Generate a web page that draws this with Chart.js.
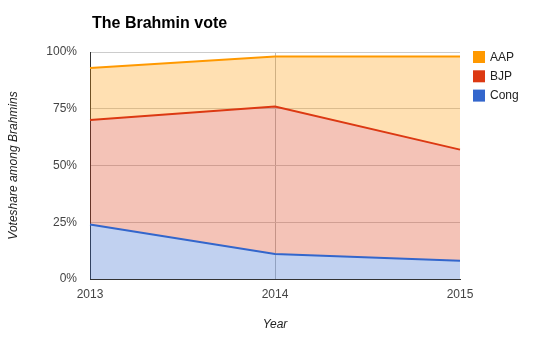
<!DOCTYPE html>
<html><head><meta charset="utf-8">
<script src="https://cdn.jsdelivr.net/npm/chart.js@4"></script>
<style>html,body{margin:0;padding:0;background:#fff;}#wrap{width:535px;height:356px;position:relative;}</style>
</head><body><div id="wrap"><canvas id="c" width="535" height="356"></canvas></div>
<script>
const years = ['2013', '2014', '2015'];
const cong = [24, 11, 8];
const bjp = [46, 65, 49];
const aap = [23, 22, 41];
const yTicks = [0, 25, 50, 75, 100];
const seriesNames = ['Cong', 'BJP', 'AAP'];
const seriesColors = ['#3366cc', '#dc3912', '#ff9900'];
const fillColors = ['rgba(51,102,204,0.3)', 'rgba(220,57,18,0.3)', 'rgba(255,153,0,0.3)'];
const chartTitle = 'The Brahmin vote';
const xTitle = 'Year';
const yTitle = 'Voteshare among Brahmins';

const FONT = '"Liberation Sans", Arial, sans-serif';

const decor = {
  id: 'decor',
  afterDraw(chart) {
    const ctx = chart.ctx;
    const a = chart.chartArea;
    ctx.save();
    ctx.fillStyle = '#000';
    ctx.font = 'bold 16px ' + FONT;
    ctx.textAlign = 'left';
    ctx.textBaseline = 'alphabetic';
    ctx.fillText(chartTitle, 92, 28);
    ctx.fillStyle = '#222';
    ctx.font = 'italic 12px ' + FONT;
    ctx.textAlign = 'center';
    ctx.textBaseline = 'middle';
    ctx.fillText(xTitle, (a.left + a.right) / 2, 325);
    ctx.save();
    ctx.translate(14, (a.top + a.bottom) / 2);
    ctx.rotate(-Math.PI / 2);
    ctx.fillText(yTitle, 0, 0);
    ctx.restore();
    // legend (reverse order)
    ctx.font = '12px ' + FONT;
    ctx.textAlign = 'left';
    const order = [2, 1, 0];
    order.forEach((di, k) => {
      const ds = chart.data.datasets[di];
      const y = 51 + k * 19.3;
      ctx.fillStyle = ds.borderColor;
      ctx.fillRect(473, y, 12, 12);
      ctx.fillStyle = '#222';
      ctx.fillText(ds.label, 490, y + 6.5);
    });
    ctx.restore();
  }
};

const datasets = [cong, bjp, aap].map((d, i) => ({
  label: seriesNames[i],
  data: d,
  borderColor: seriesColors[i],
  backgroundColor: fillColors[i],
  borderWidth: 2,
  pointRadius: 0,
  pointHoverRadius: 0,
  tension: 0,
  fill: i === 0 ? 'origin' : '-1'
}));

new Chart(document.getElementById('c'), {
  type: 'line',
  data: { labels: years, datasets },
  options: {
    responsive: false,
    animation: false,
    events: [],
    layout: { padding: { top: 52, right: 75, left: 0, bottom: 0 } },
    plugins: { legend: { display: false }, title: { display: false }, tooltip: { enabled: false } },
    scales: {
      x: {
        type: 'category',
        offset: false,
        afterFit(s) { s.height = 77; },
        grid: {
          color: (c) => (c.index === 1 ? '#bbbbbb' : 'rgba(0,0,0,0)'),
          drawTicks: false
        },
        border: { display: true, color: '#333', width: 1 },
        ticks: { color: '#444', font: { family: FONT, size: 12 }, padding: 8, maxRotation: 0, autoSkip: false }
      },
      y: {
        stacked: true,
        min: 0, max: 100,
        afterFit(s) { s.width = 90; },
        afterBuildTicks(s) { s.ticks = yTicks.map(v => ({ value: v })); },
        grid: { color: '#cccccc', drawTicks: false },
        border: { display: true, color: '#333', width: 1 },
        ticks: { color: '#444', font: { family: FONT, size: 12 }, padding: 13, callback: v => v + '%' }
      }
    }
  },
  plugins: [decor]
});
</script></body></html>
